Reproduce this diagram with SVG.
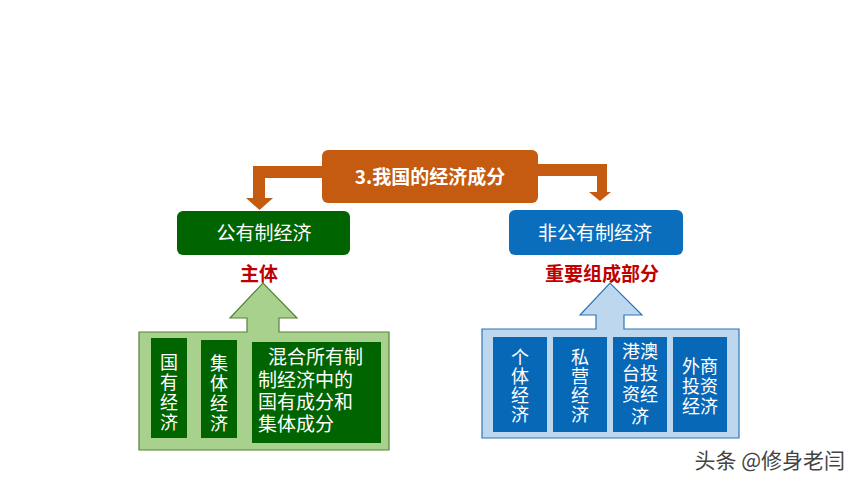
<svg xmlns="http://www.w3.org/2000/svg" width="860" height="484" viewBox="0 0 860 484">
<style>
.t{font-family:"Noto Sans CJK SC","Liberation Sans",sans-serif;}
.w{fill:#ffffff;}
.orange{fill:#c55a11;}
.red{fill:#c00000;font-weight:bold;font-size:19px;}
.gbox{fill:#006400;}
.bbox{fill:#0868b8;}
.cell{font-size:18px;}
</style>
<rect width="860" height="484" fill="#ffffff"/>
<g id="connectors">
  <path class="orange" d="M330,166 H253 V198 H246 L259.5,210 L273,198 H265 V178 H330 Z"/>
  <path class="orange" d="M530,164 H607 V192 H611 L600,201 L589,192 H597 V176 H530 Z"/>
</g>
<g id="top">
  <rect class="orange" x="322" y="150" width="216" height="53" rx="6"/>
  <text class="t w" x="430" y="184" font-size="19" font-weight="bold" text-anchor="middle">3.我国的经济成分</text>
</g>
<g id="public">
  <rect class="gbox" x="177" y="211" width="173" height="44" rx="6"/>
  <text class="t w" x="264" y="240" font-size="19" text-anchor="middle">公有制经济</text>
</g>
<g id="nonpublic">
  <rect fill="#0a6ebd" x="509" y="210" width="174" height="45" rx="6"/>
  <text class="t w" x="595" y="240" font-size="19" text-anchor="middle">非公有制经济</text>
</g>
<g id="label-main">
  <text class="t red" x="259" y="281" text-anchor="middle">主体</text>
</g>
<g id="label-part">
  <text class="t red" x="602" y="281" text-anchor="middle">重要组成部分</text>
</g>
<g id="public-group">
  <path d="M139,332 H247 V318 H230 L263,283 L297,318 H279 V332 H389 V450 H139 Z" fill="#a9d18e" stroke="#548235" stroke-width="1.2"/>
  <rect class="gbox" x="151" y="338" width="36" height="100"/>
  <rect class="gbox" x="201" y="340" width="36" height="98"/>
  <rect class="gbox" x="252" y="342" width="129" height="101"/>
  <text class="t w cell" text-anchor="middle">
    <tspan x="169" y="369">国</tspan><tspan x="169" y="389">有</tspan><tspan x="169" y="409">经</tspan><tspan x="169" y="429">济</tspan>
  </text>
  <text class="t w cell" text-anchor="middle">
    <tspan x="219" y="370">集</tspan><tspan x="219" y="390">体</tspan><tspan x="219" y="410">经</tspan><tspan x="219" y="430">济</tspan>
  </text>
  <text class="t w" font-size="19">
    <tspan x="268" y="364">混合所有制</tspan><tspan x="258" y="387">制经济中的</tspan><tspan x="258" y="409">国有成分和</tspan><tspan x="258" y="431">集体成分</tspan>
  </text>
</g>
<g id="nonpublic-group">
  <path d="M482,329 H596 V315 H580 L610,283 L642,315 H624 V329 H739 V438 H482 Z" fill="#bdd7ee" stroke="#2e75b6" stroke-width="1.2"/>
  <rect class="bbox" x="493" y="337" width="54" height="95"/>
  <rect class="bbox" x="553" y="337" width="54" height="95"/>
  <rect class="bbox" x="613" y="337" width="54" height="95"/>
  <rect class="bbox" x="673" y="337" width="54" height="95"/>
  <text class="t w cell" text-anchor="middle">
    <tspan x="520" y="364">个</tspan><tspan x="520" y="383">体</tspan><tspan x="520" y="402">经</tspan><tspan x="520" y="421">济</tspan>
  </text>
  <text class="t w cell" text-anchor="middle">
    <tspan x="580" y="364">私</tspan><tspan x="580" y="383">营</tspan><tspan x="580" y="402">经</tspan><tspan x="580" y="421">济</tspan>
  </text>
  <text class="t w cell" text-anchor="middle">
    <tspan x="640" y="358">港澳</tspan><tspan x="640" y="380">台投</tspan><tspan x="640" y="401">资经</tspan><tspan x="640" y="423">济</tspan>
  </text>
  <text class="t w cell" text-anchor="middle">
    <tspan x="700" y="373">外商</tspan><tspan x="700" y="393">投资</tspan><tspan x="700" y="413">经济</tspan>
  </text>
</g>
<g id="watermark">
  <text class="t" x="845" y="468" font-size="21" fill="#444444" text-anchor="end">头条 @修身老闫</text>
</g>
</svg>
